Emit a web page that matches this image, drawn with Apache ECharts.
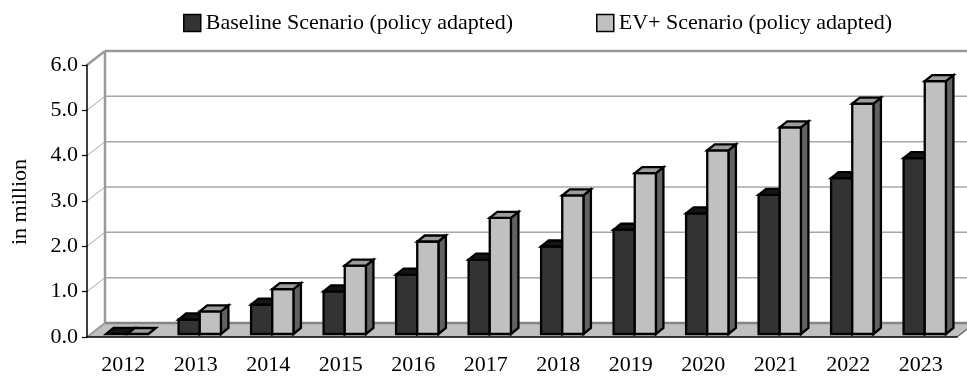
<!DOCTYPE html>
<html>
<head>
<meta charset="utf-8">
<script src="https://cdn.jsdelivr.net/npm/echarts@6/dist/echarts.min.js"></script>
<style>
  html, body { margin: 0; padding: 0; background: #fff; }
  #chart { width: 967px; height: 376px; }
</style>
</head>
<body>
<div id="chart"></div>
<script>
// Vehicle stock per year, two scenarios (in million)
const categories = ['2012', '2013', '2014', '2015', '2016', '2017', '2018', '2019', '2020', '2021', '2022', '2023'];
const baseline = [0, 0.32, 0.65, 0.94, 1.31, 1.64, 1.93, 2.30, 2.66, 3.07, 3.44, 3.88];
const evPlus = [0, 0.50, 0.99, 1.51, 2.04, 2.56, 3.06, 3.55, 4.05, 4.56, 5.08, 5.58];
const yMin = 0, yMax = 6, yStep = 1;
const seriesNames = ['Baseline Scenario (policy adapted)', 'EV+ Scenario (policy adapted)'];

const FONT = 'Liberation Serif';
const FONT_SIZE = 22;
// oblique depth of the chart box (floor / back wall)
const BOX_DX = 18, BOX_DY = -14;
// depth of a single column and its position inside the box
const BAR_DX = 7.5, BAR_DY = -6;
const BAR_SHIFT_X = 4, BAR_SHIFT_Y = -3;

const chart = echarts.init(document.getElementById('chart'));

// Floor, back wall, side wall and their grid lines
function renderBox(params, api) {
  const bw = api.size([1, 0])[0];
  const x0 = api.coord([0, 0])[0] - bw / 2;
  const x1 = api.coord([categories.length - 1, 0])[0] + bw / 2;
  const y0 = api.coord([0, yMin])[1];
  const children = [];
  // floor
  children.push({
    type: 'polygon',
    shape: { points: [[x0, y0], [x1, y0], [x1 + BOX_DX, y0 + BOX_DY], [x0 + BOX_DX, y0 + BOX_DY]] },
    style: { fill: '#c0c0c0', stroke: null }
  });
  for (let v = yMin + yStep; v <= yMax + 1e-9; v += yStep) {
    const y = api.coord([0, v])[1];
    const top = Math.abs(v - yMax) < 1e-9;
    children.push({
      type: 'line',
      shape: { x1: x0 + BOX_DX, y1: y + BOX_DY, x2: x1 + BOX_DX, y2: y + BOX_DY },
      style: { stroke: top ? '#9a9a9a' : '#a8a8a8', lineWidth: top ? 2.5 : 1.5 }
    });
    children.push({
      type: 'line',
      shape: { x1: x0, y1: y, x2: x0 + BOX_DX, y2: y + BOX_DY },
      style: { stroke: top ? '#9a9a9a' : '#a8a8a8', lineWidth: top ? 2.5 : 1 }
    });
  }
  const yTop = api.coord([0, yMax])[1];
  // back wall left edge
  children.push({
    type: 'line',
    shape: { x1: x0 + BOX_DX, y1: y0 + BOX_DY, x2: x0 + BOX_DX, y2: yTop + BOX_DY },
    style: { stroke: '#9a9a9a', lineWidth: 2.5 }
  });
  // floor back edge and sides
  children.push({
    type: 'line',
    shape: { x1: x0 + BOX_DX, y1: y0 + BOX_DY, x2: x1 + BOX_DX, y2: y0 + BOX_DY },
    style: { stroke: '#858585', lineWidth: 2.5 }
  });
  children.push({
    type: 'line',
    shape: { x1: x0, y1: y0, x2: x0 + BOX_DX, y2: y0 + BOX_DY },
    style: { stroke: '#9a9a9a', lineWidth: 2 }
  });
  children.push({
    type: 'line',
    shape: { x1: x1, y1: y0, x2: x1 + BOX_DX, y2: y0 + BOX_DY },
    style: { stroke: '#606060', lineWidth: 1.2 }
  });
  return { type: 'group', children: children };
}

// 3D column: front face, top face and right side face
function makeBarRenderer(slot, colors) {
  return function (params, api) {
    const idx = api.value(0);
    const val = api.value(1);
    const bw = api.size([1, 0])[0];
    const w = bw * 0.292;
    const cx = api.coord([idx, 0])[0];
    const left = cx + BAR_SHIFT_X + (slot === 0 ? -w : 0);
    const right = left + w;
    const base = api.coord([idx, 0])[1] + BAR_SHIFT_Y;
    const top = api.coord([idx, val])[1] + BAR_SHIFT_Y;
    const stroke = { stroke: '#000', lineWidth: 2.3, lineJoin: 'miter' };
    const children = [];
    if (base - top > 0.5) {
      children.push({
        type: 'polygon',
        shape: { points: [[right, top], [right + BAR_DX, top + BAR_DY], [right + BAR_DX, base + BAR_DY], [right, base]] },
        style: Object.assign({ fill: colors.side }, stroke)
      });
      children.push({
        type: 'rect',
        shape: { x: left, y: top, width: w, height: base - top },
        style: Object.assign({ fill: colors.front }, stroke)
      });
    }
    children.push({
      type: 'polygon',
      shape: { points: [[left, top], [right, top], [right + BAR_DX, top + BAR_DY], [left + BAR_DX, top + BAR_DY]] },
      style: Object.assign({ fill: colors.top }, stroke)
    });
    return { type: 'group', children: children };
  };
}

const darkColors = { front: '#333333', top: '#151515', side: '#222222' };
const lightColors = { front: '#c0c0c0', top: '#9c9c9c', side: '#626262' };

chart.setOption({
  animation: false,
  backgroundColor: '#fff',
  textStyle: { fontFamily: FONT, color: '#000' },
  legend: {
    top: 12,
    left: 183,
    padding: 0,
    itemWidth: 17,
    itemHeight: 17,
    itemGap: 83,
    icon: 'rect',
    textStyle: { fontFamily: FONT, fontSize: FONT_SIZE, color: '#000' },
    data: [
      { name: seriesNames[0], itemStyle: { color: darkColors.front, borderColor: '#000', borderWidth: 1.5 } },
      { name: seriesNames[1], itemStyle: { color: lightColors.front, borderColor: '#000', borderWidth: 1.5 } }
    ]
  },
  grid: { left: 87, right: 10, top: 65, bottom: 39 },
  xAxis: {
    type: 'category',
    data: categories,
    z: 5,
    axisLine: { lineStyle: { color: '#000', width: 1.5 } },
    axisTick: { length: 6, lineStyle: { color: '#000', width: 1.2 } },
    axisLabel: { fontFamily: FONT, fontSize: FONT_SIZE, color: '#000', margin: 17 },
    splitLine: { show: false }
  },
  yAxis: {
    type: 'value',
    min: yMin,
    max: yMax,
    interval: yStep,
    z: 5,
    axisLine: { show: true, lineStyle: { color: '#000', width: 1.5 } },
    axisTick: { show: true, length: 5, lineStyle: { color: '#000', width: 1.2 } },
    axisLabel: { fontFamily: FONT, fontSize: FONT_SIZE, color: '#000', margin: 9, formatter: v => v.toFixed(1) },
    splitLine: { show: false }
  },
  graphic: [{
    type: 'text',
    x: 20,
    y: 202,
    rotation: Math.PI / 2,
    style: { text: 'in million', fontFamily: FONT, fontSize: FONT_SIZE, fill: '#000', textAlign: 'center', textVerticalAlign: 'middle' }
  }],
  series: [
    {
      type: 'custom',
      name: 'box',
      z: 0,
      silent: true,
      renderItem: renderBox,
      data: [[0, 0]]
    },
    {
      type: 'custom',
      name: seriesNames[0],
      z: 2,
      itemStyle: { color: darkColors.front },
      renderItem: makeBarRenderer(0, darkColors),
      data: baseline.map((v, i) => [i, v])
    },
    {
      type: 'custom',
      name: seriesNames[1],
      z: 3,
      itemStyle: { color: lightColors.front },
      renderItem: makeBarRenderer(1, lightColors),
      data: evPlus.map((v, i) => [i, v])
    }
  ]
});
</script>
</body>
</html>
